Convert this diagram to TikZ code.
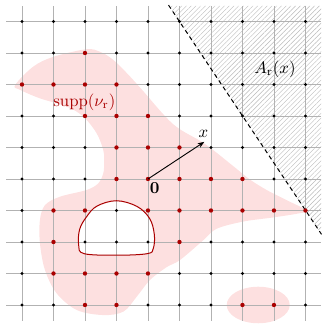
\documentclass[tikz,border=0pt]{standalone}
\usetikzlibrary{arrows.meta,patterns.meta}
\definecolor{dred}{RGB}{170,0,0}
\definecolor{pinkfill}{RGB}{253,224,224}
\tikzset{
  gridline/.style={gray!60,line width=0.45pt},
  blackdot/.style={fill=black},
  reddot/.style={fill=dred},
  blob/.style={fill=pinkfill,draw=none},
  halfspace/.style={pattern={Lines[angle=45,distance=2pt,line width=0.25pt]},pattern color=gray!55},
  boundary/.style={line width=0.6pt,dash pattern=on 2.5pt off 2pt},
  holeline/.style={draw=dred,line width=0.6pt},
}
\begin{document}
\begin{tikzpicture}[x=0.66cm,y=0.66cm]
\useasboundingbox (-4.698,-4.794) rectangle (5.683,5.683);
% support blob
\fill[blob] plot[smooth cycle,tension=0.55] coordinates{
(-4.22,2.98) (-3.64,3.57) (-3.0,3.88) (-1.95,4.12) (-1.5,4.03) (-1.1,3.78)
(-0.66,3.35) (-0.23,2.88) (0.8,1.74) (1.8,1.12) (2.73,0.39) (3.24,-0.02)
(3.77,-0.35) (4.4,-0.67) (5.04,-1.0) (4.8,-1.09) (3.98,-1.22) (3.03,-1.35)
(2.18,-1.58) (1.76,-1.94) (1.02,-2.57) (0.59,-2.8) (0.06,-3.21) (-0.36,-3.74)
(-0.78,-4.21) (-1.42,-4.32) (-2.26,-4.16) (-2.90,-3.63) (-3.27,-2.89)
(-3.43,-2.04) (-3.43,-1.30) (-3.27,-0.83) (-2.79,-0.56) (-1.95,-0.35)
(-1.58,-0.14) (-1.42,0.18) (-1.39,0.55) (-1.42,0.92) (-1.63,1.45)
(-2.05,1.98) (-2.58,2.30) (-3.43,2.56) (-4.06,2.83)};
\fill[blob] (3.5,-4) ellipse [x radius=1.0,y radius=0.58];
% hole
\fill[white] plot[smooth cycle,tension=0.6] coordinates{
(-1,-0.69) (-0.35,-0.87) (0.05,-1.25) (0.2,-1.75) (0.17,-2.2) (-0.02,-2.37)
(-1,-2.42) (-2.03,-2.37) (-2.2,-2.1) (-2.17,-1.6) (-1.95,-1.2) (-1.62,-0.86)};
% half space
\fill[halfspace] (0.653,5.5) -- (5.5,5.5) -- (5.5,-1.75) -- cycle;
% grid
\foreach \i in {-4,...,5}{
  \draw[gridline] (\i,-4.5) -- (\i,5.5);
  \draw[gridline] (-4.5,\i) -- (5.5,\i);
}
\coordinate (L1) at (0.653,5.52);
\coordinate (L2) at (5.51,-1.757);
\draw[boundary] (L1) -- (L2);
\draw[holeline] plot[smooth cycle,tension=0.6] coordinates{
(-1,-0.69) (-0.35,-0.87) (0.05,-1.25) (0.2,-1.75) (0.17,-2.2) (-0.02,-2.37)
(-1,-2.42) (-2.03,-2.37) (-2.2,-2.1) (-2.17,-1.6) (-1.95,-1.2) (-1.62,-0.86)};
% dots
\foreach \x in {-4,...,5}{\foreach \y in {-4,...,5}{
  \fill[blackdot] (\x,\y) circle (1.0pt);}}
\foreach \p in {(-2,4),(-4,3),(-3,3),(-2,3),(-1,3),(-2,2),(-1,2),(0,2),
  (-1,1),(0,1),(1,1),(-1,0),(0,0),(1,0),(2,0),(3,0),
  (-3,-1),(-2,-1),(0,-1),(1,-1),(2,-1),(3,-1),(4,-1),(5,-1),
  (-3,-2),(1,-2),(-3,-3),(-2,-3),(-1,-3),(0,-3),(-2,-4),(-1,-4),(3,-4),(4,-4)}{
  \fill[reddot] \p circle (1.3pt);}
% vector x
\coordinate (O) at (0,0);
\coordinate (X) at (1.79,1.18);
\draw[-{Stealth[length=4pt,width=3pt]},line width=0.55pt] (O) -- (X);
\node[anchor=south,inner sep=2pt] (xl) at (1.76,1.2) {$x$};
\node[anchor=north west,inner sep=1pt] (ol) at (0.0,-0.06) {$\mathbf{0}$};
\node[dred] (supp) at (-2.02,2.44) {$\mathrm{supp}(\nu_{\mathrm{r}})$};
\node (A) at (4.03,3.49) {$A_{\mathrm{r}}(x)$};
\end{tikzpicture}
\end{document}
